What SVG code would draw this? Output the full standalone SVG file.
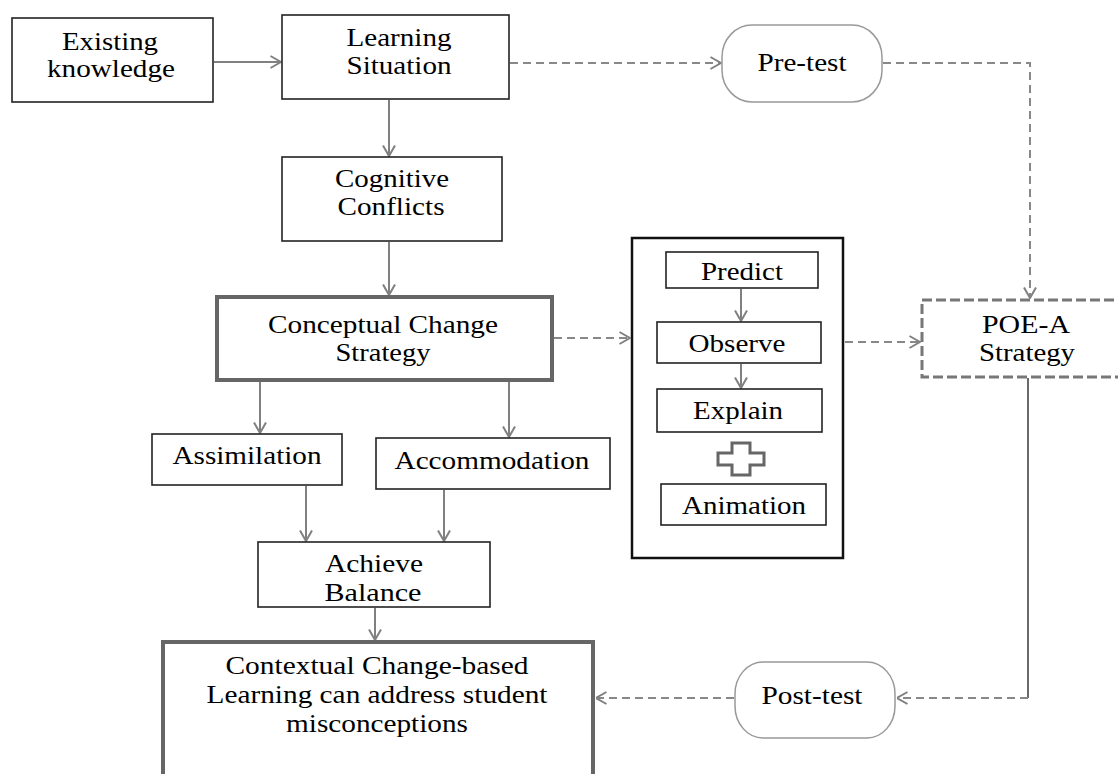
<svg xmlns="http://www.w3.org/2000/svg" width="1118" height="774" viewBox="0 0 1118 774">
<style>
text{font-family:"Liberation Serif","Times New Roman",serif;fill:#000;text-anchor:middle;font-size:25px}
.box{fill:#fff;stroke:#222;stroke-width:1.6}
.thick{fill:#fff;stroke:#666;stroke-width:4}
.group{fill:#fff;stroke:#111;stroke-width:2.5}
.dbox{fill:#fff;stroke:#777;stroke-width:3;stroke-dasharray:10 4}
.pill{fill:#fff;stroke:#999;stroke-width:1.5}
.plus{fill:#fff;stroke:#666;stroke-width:3}
.solid{fill:none;stroke:#808080;stroke-width:2}
.dash{fill:none;stroke:#888;stroke-width:2;stroke-dasharray:8 5}
.dark{fill:none;stroke:#444;stroke-width:1.6}
</style>
<defs>
<marker id="ah" viewBox="0 0 12 14" refX="11.5" refY="7" markerWidth="12" markerHeight="14" markerUnits="userSpaceOnUse" orient="auto">
<path d="M1,1 L11.5,7 L1,13" fill="none" stroke="#808080" stroke-width="2" stroke-dasharray="none"/>
</marker>
</defs>
<rect width="1118" height="774" fill="#fff"/>
<g id="poe-group">
<rect class="group" x="632" y="238" width="211" height="320"/>
</g>
<g id="connectors">
<line class="solid" x1="214" y1="62" x2="281" y2="62" marker-end="url(#ah)"/>
<line class="dash" x1="510" y1="63" x2="721" y2="63" marker-end="url(#ah)"/>
<polyline class="dash" points="883,63 1030,63 1030,298" marker-end="url(#ah)"/>
<line class="solid" x1="389" y1="100" x2="389" y2="156" marker-end="url(#ah)"/>
<line class="solid" x1="389" y1="242" x2="389" y2="295" marker-end="url(#ah)"/>
<line class="dash" x1="554" y1="338" x2="630" y2="338" marker-end="url(#ah)"/>
<line class="dash" x1="845" y1="342" x2="920" y2="342" marker-end="url(#ah)"/>
<line class="solid" x1="741" y1="289" x2="741" y2="321" marker-end="url(#ah)"/>
<line class="solid" x1="741" y1="364" x2="741" y2="388" marker-end="url(#ah)"/>
<line class="solid" x1="260" y1="382" x2="260" y2="433" marker-end="url(#ah)"/>
<line class="solid" x1="509" y1="382" x2="509" y2="437" marker-end="url(#ah)"/>
<line class="solid" x1="306" y1="486" x2="306" y2="541" marker-end="url(#ah)"/>
<line class="solid" x1="444" y1="490" x2="444" y2="541" marker-end="url(#ah)"/>
<line class="solid" x1="375" y1="608" x2="375" y2="640" marker-end="url(#ah)"/>
<polyline class="dark" points="1028,378 1028,698"/>
<line class="dash" x1="1028" y1="698" x2="897" y2="698" marker-end="url(#ah)"/>
<line class="dash" x1="734" y1="698" x2="596" y2="698" marker-end="url(#ah)"/>
</g>
<g id="existing-knowledge">
<rect class="box" x="12" y="18" width="201" height="84"/>
<text x="110" y="50" font-size="24" textLength="96" lengthAdjust="spacingAndGlyphs">Existing</text>
<text x="111" y="77" font-size="24" textLength="128" lengthAdjust="spacingAndGlyphs">knowledge</text>
</g>
<g id="learning-situation">
<rect class="box" x="282" y="15" width="227" height="84"/>
<text x="399" y="46" font-size="25" textLength="105" lengthAdjust="spacingAndGlyphs">Learning</text>
<text x="399" y="74" font-size="25" textLength="105" lengthAdjust="spacingAndGlyphs">Situation</text>
</g>
<g id="pre-test">
<rect class="pill" x="722" y="25" width="160" height="77" rx="30" ry="32"/>
<text x="802" y="71" font-size="27" textLength="89" lengthAdjust="spacingAndGlyphs">Pre-test</text>
</g>
<g id="cognitive-conflicts">
<rect class="box" x="282" y="157" width="220" height="84"/>
<text x="392" y="187" font-size="25" textLength="114" lengthAdjust="spacingAndGlyphs">Cognitive</text>
<text x="391" y="215" font-size="25" textLength="107" lengthAdjust="spacingAndGlyphs">Conflicts</text>
</g>
<g id="conceptual-change-strategy">
<rect class="thick" x="217" y="297" width="335" height="83"/>
<text x="383" y="333" font-size="25" textLength="230" lengthAdjust="spacingAndGlyphs">Conceptual Change</text>
<text x="383" y="361" font-size="25" textLength="95" lengthAdjust="spacingAndGlyphs">Strategy</text>
</g>
<g id="predict">
<rect class="box" x="666" y="252" width="152" height="36"/>
<text x="742" y="280" font-size="25" textLength="82" lengthAdjust="spacingAndGlyphs">Predict</text>
</g>
<g id="observe">
<rect class="box" x="657" y="322" width="164" height="41"/>
<text x="737" y="352" font-size="26" textLength="97" lengthAdjust="spacingAndGlyphs">Observe</text>
</g>
<g id="explain">
<rect class="box" x="657" y="389" width="165" height="43"/>
<text x="738" y="419" font-size="26" textLength="90" lengthAdjust="spacingAndGlyphs">Explain</text>
</g>
<g id="plus">
<path class="plus" d="M732,443 H750 V453 H764 V465 H750 V475 H732 V465 H718 V453 H732 Z"/>
</g>
<g id="animation">
<rect class="box" x="661" y="484" width="165" height="41"/>
<text x="744" y="514" font-size="26" textLength="124" lengthAdjust="spacingAndGlyphs">Animation</text>
</g>
<g id="poe-a-strategy">
<rect class="dbox" x="922" y="300" width="210" height="77"/>
<text x="1026" y="333" font-size="25" textLength="88" lengthAdjust="spacingAndGlyphs">POE-A</text>
<text x="1027" y="361" font-size="25" textLength="96" lengthAdjust="spacingAndGlyphs">Strategy</text>
</g>
<g id="assimilation">
<rect class="box" x="152" y="434" width="190" height="51"/>
<text x="247" y="464" font-size="25" textLength="149" lengthAdjust="spacingAndGlyphs">Assimilation</text>
</g>
<g id="accommodation">
<rect class="box" x="376" y="438" width="234" height="51"/>
<text x="492" y="469" font-size="25" textLength="195" lengthAdjust="spacingAndGlyphs">Accommodation</text>
</g>
<g id="achieve-balance">
<rect class="box" x="258" y="542" width="232" height="65"/>
<text x="374" y="572" font-size="25" textLength="98" lengthAdjust="spacingAndGlyphs">Achieve</text>
<text x="373" y="601" font-size="25" textLength="97" lengthAdjust="spacingAndGlyphs">Balance</text>
</g>
<g id="post-test">
<rect class="pill" x="735" y="662" width="160" height="76" rx="28" ry="32"/>
<text x="812" y="704" font-size="25" textLength="101" lengthAdjust="spacingAndGlyphs">Post-test</text>
</g>
<g id="contextual-learning">
<rect class="thick" x="163" y="642" width="430" height="150"/>
<text x="377" y="674" font-size="25" textLength="303" lengthAdjust="spacingAndGlyphs">Contextual Change-based</text>
<text x="377" y="703" font-size="25" textLength="341" lengthAdjust="spacingAndGlyphs">Learning can address student</text>
<text x="377" y="732" font-size="25" textLength="182" lengthAdjust="spacingAndGlyphs">misconceptions</text>
</g>
</svg>
